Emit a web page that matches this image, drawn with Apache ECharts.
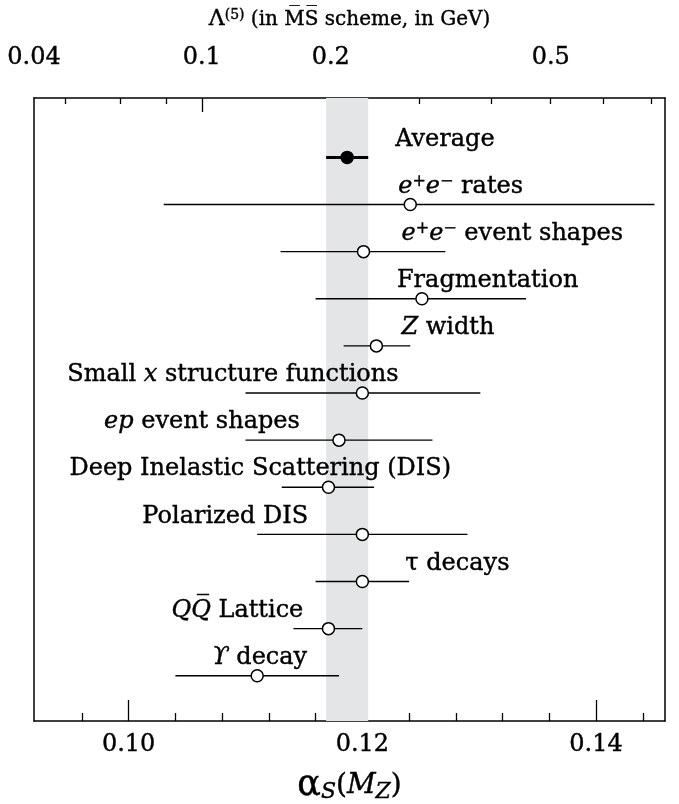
<!DOCTYPE html>
<html><head><meta charset="utf-8">
<script src="https://cdn.jsdelivr.net/npm/echarts@6/dist/echarts.min.js"></script>
<style>html,body{margin:0;padding:0;background:#fff}#c{width:679px;height:804px}</style>
</head><body><div id="c"></div>
<script>
// ---- data ----
const rowLabels = [
  'Average',
  '{i|e}{sup|+}{i|e}{sup|\u2212} rates',
  '{i|e}{sup|+}{i|e}{sup|\u2212} event shapes',
  'Fragmentation',
  '{i|Z} width',
  'Small {i|x} structure functions',
  '{i|ep} event shapes',
  'Deep Inelastic Scattering (DIS)',
  'Polarized DIS',
  '\u03C4 decays',
  '{i|Q}{i|Q\u0305} Lattice',
  '{i|\u03D2} decay'
];
const alphaValues = [0.1187, 0.1241, 0.1201, 0.1251, 0.1212, 0.1200, 0.1180, 0.1171, 0.1200, 0.1200, 0.1171, 0.1110];
const alphaLow    = [0.1169, 0.1030, 0.1130, 0.1160, 0.1184, 0.1100, 0.1100, 0.1131, 0.1110, 0.1160, 0.1141, 0.1040];
const alphaHigh   = [0.1205, 0.1450, 0.1271, 0.1340, 0.1241, 0.1301, 0.1260, 0.1210, 0.1290, 0.1240, 0.1200, 0.1180];
const averageBand = [0.1169, 0.1205];
const alphaTickValues = [0.10, 0.12, 0.14];
const alphaMinorTickValues = [0.096, 0.104, 0.108, 0.112, 0.116, 0.124, 0.128, 0.132, 0.136, 0.144];
// Lambda(5) scale (top axis): Lambda values and the alpha_s(MZ) they correspond to
const lambdaMajorTicks = [0.1, 0.2];
const lambdaMajorAlpha = [0.10626, 0.1173];
const lambdaMinorTicks = [0.04, 0.06, 0.08, 0.3, 0.4, 0.5, 0.6, 0.7];
const lambdaMinorAlpha = [0.09456, 0.09932, 0.10318, 0.12485, 0.13099, 0.13612, 0.14062, 0.14471];
const lambdaTickLabels = ['0.04', '0.1', '0.2', '0.5'];
const lambdaLabelAlpha = [0.0919, 0.10626, 0.1173, 0.13612];

// ---- styling ----
const FONT = 'DejaVu Serif';
const FS = 24;
const labelDx = [48, -12, 38, -25, 25, -295, -235, -259, -220, 43, -157, -45];
const labelDy = -18;
const xMin = 0.0919, xMax = 0.1459;
const thick = {textBorderColor: '#000', textBorderWidth: 0.4};

const chart = echarts.init(document.getElementById('c'), null, {renderer: 'canvas'});
const richStyles = {
  i: Object.assign({fontFamily: FONT, fontSize: FS, fontStyle: 'italic', color: '#000'}, thick),
  sup: Object.assign({fontFamily: FONT, fontSize: 16, color: '#000', verticalAlign: 'top', padding: [0, 0, 10, 0]}, thick)
};

const errData = alphaValues.map((v, i) => [alphaLow[i], alphaHigh[i], i]);
const ptData = alphaValues.map((v, i) => ({
  value: [v, i],
  itemStyle: i === 0 ? {color: '#000', borderColor: '#000'} : {color: '#fff', borderColor: '#000'},
  label: {show: true, formatter: rowLabels[i], offset: [labelDx[i], labelDy]}
}));

function axisBase(pos) {
  return {type: 'value', position: pos, min: xMin, max: xMax, splitLine: {show: false},
    axisLine: {show: false, onZero: false}, axisTick: {show: false}, axisLabel: {show: false}};
}

const option = {
  animation: false,
  backgroundColor: '#fff',
  grid: {left: 34, right: 14, top: 98, bottom: 83, outerBoundsMode: 'none', containLabel: false},
  xAxis: [
    Object.assign(axisBase('bottom'), {
      axisLine: {show: true, onZero: false, lineStyle: {color: '#000', width: 1.5}},
      axisTick: {show: true, inside: true, length: 21, customValues: alphaTickValues, lineStyle: {color: '#000', width: 1.3}},
      axisLabel: Object.assign({show: true, customValues: alphaTickValues, formatter: v => v.toFixed(2), fontFamily: FONT, fontSize: FS, color: '#000', margin: 12}, thick),
      name: '{a|\u03B1}{s|S}{p|(}{i|M}{z|Z}{p|)}', nameLocation: 'middle', nameGap: 47,
      nameTextStyle: {rich: {
        a: Object.assign({fontFamily: FONT, fontSize: 35, color: '#000'}, thick),
        s: Object.assign({fontFamily: FONT, fontSize: 22, fontStyle: 'italic', color: '#000', verticalAlign: 'bottom', padding: [12, 0, 0, 0]}, thick),
        p: Object.assign({fontFamily: FONT, fontSize: 28, color: '#000'}, thick),
        i: Object.assign({fontFamily: FONT, fontSize: 28, fontStyle: 'italic', color: '#000'}, thick),
        z: Object.assign({fontFamily: FONT, fontSize: 22, fontStyle: 'italic', color: '#000', verticalAlign: 'bottom', padding: [12, 0, 0, 0]}, thick)
      }}
    }),
    Object.assign(axisBase('bottom'), {
      axisTick: {show: true, inside: true, length: 8, customValues: alphaMinorTickValues, lineStyle: {color: '#000', width: 1.3}}
    }),
    Object.assign(axisBase('top'), {
      axisLine: {show: true, onZero: false, lineStyle: {color: '#000', width: 1.5}},
      axisTick: {show: true, inside: true, length: 14, customValues: lambdaMajorAlpha, lineStyle: {color: '#000', width: 1.3}},
      axisLabel: Object.assign({show: true, customValues: lambdaLabelAlpha, fontFamily: FONT, fontSize: FS, color: '#000', margin: 28,
        formatter: v => {
          let best = 0;
          lambdaLabelAlpha.forEach((a, k) => { if (Math.abs(a - v) < Math.abs(lambdaLabelAlpha[best] - v)) best = k; });
          return lambdaTickLabels[best];
        }}, thick),
      name: '{L|\u039B}{sup|(5)} (in M\u0305S\u0305 scheme, in GeV)', nameLocation: 'middle', nameGap: 67,
      nameTextStyle: Object.assign({fontFamily: FONT, fontSize: 20, color: '#000', rich: {
        L: Object.assign({fontFamily: FONT, fontSize: 22, color: '#000'}, thick),
        sup: Object.assign({fontFamily: FONT, fontSize: 14, color: '#000', verticalAlign: 'top', padding: [0, 0, 9, 0]}, thick)
      }}, thick)
    }),
    Object.assign(axisBase('top'), {
      axisTick: {show: true, inside: true, length: 6, customValues: lambdaMinorAlpha, lineStyle: {color: '#000', width: 1.3}}
    })
  ],
  yAxis: [
    {type: 'value', inverse: true, min: -1.26, max: 11.96, position: 'left',
      axisLine: {show: true, onZero: false, lineStyle: {color: '#000', width: 1.5}},
      axisTick: {show: false}, axisLabel: {show: false}, splitLine: {show: false}},
    {type: 'value', inverse: true, min: -1.26, max: 11.96, position: 'right',
      axisLine: {show: true, onZero: false, lineStyle: {color: '#000', width: 1.5}},
      axisTick: {show: false}, axisLabel: {show: false}, splitLine: {show: false}}
  ],
  series: [
    {
      type: 'custom', xAxisIndex: 0, yAxisIndex: 0, z: 2,
      data: errData,
      renderItem: (params, api) => {
        const i = api.value(2);
        const p1 = api.coord([api.value(0), i]);
        const p2 = api.coord([api.value(1), i]);
        return {type: 'line', shape: {x1: p1[0], y1: p1[1], x2: p2[0], y2: p2[1]},
          style: {stroke: '#000', lineWidth: i === 0 ? 3 : 1.4}};
      },
      markArea: {silent: true, itemStyle: {color: '#e4e5e7'},
        data: [[{xAxis: averageBand[0]}, {xAxis: averageBand[1]}]]}
    },
    {
      type: 'scatter', xAxisIndex: 0, yAxisIndex: 0, z: 3,
      symbol: 'circle', symbolSize: 12,
      itemStyle: {borderWidth: 1.5, opacity: 1},
      label: Object.assign({position: 'inside', align: 'left', verticalAlign: 'middle', fontFamily: FONT, fontSize: FS, color: '#000', rich: richStyles}, thick),
      emphasis: {disabled: true},
      data: ptData
    }
  ]
};
chart.setOption(option);
</script>
</body></html>
